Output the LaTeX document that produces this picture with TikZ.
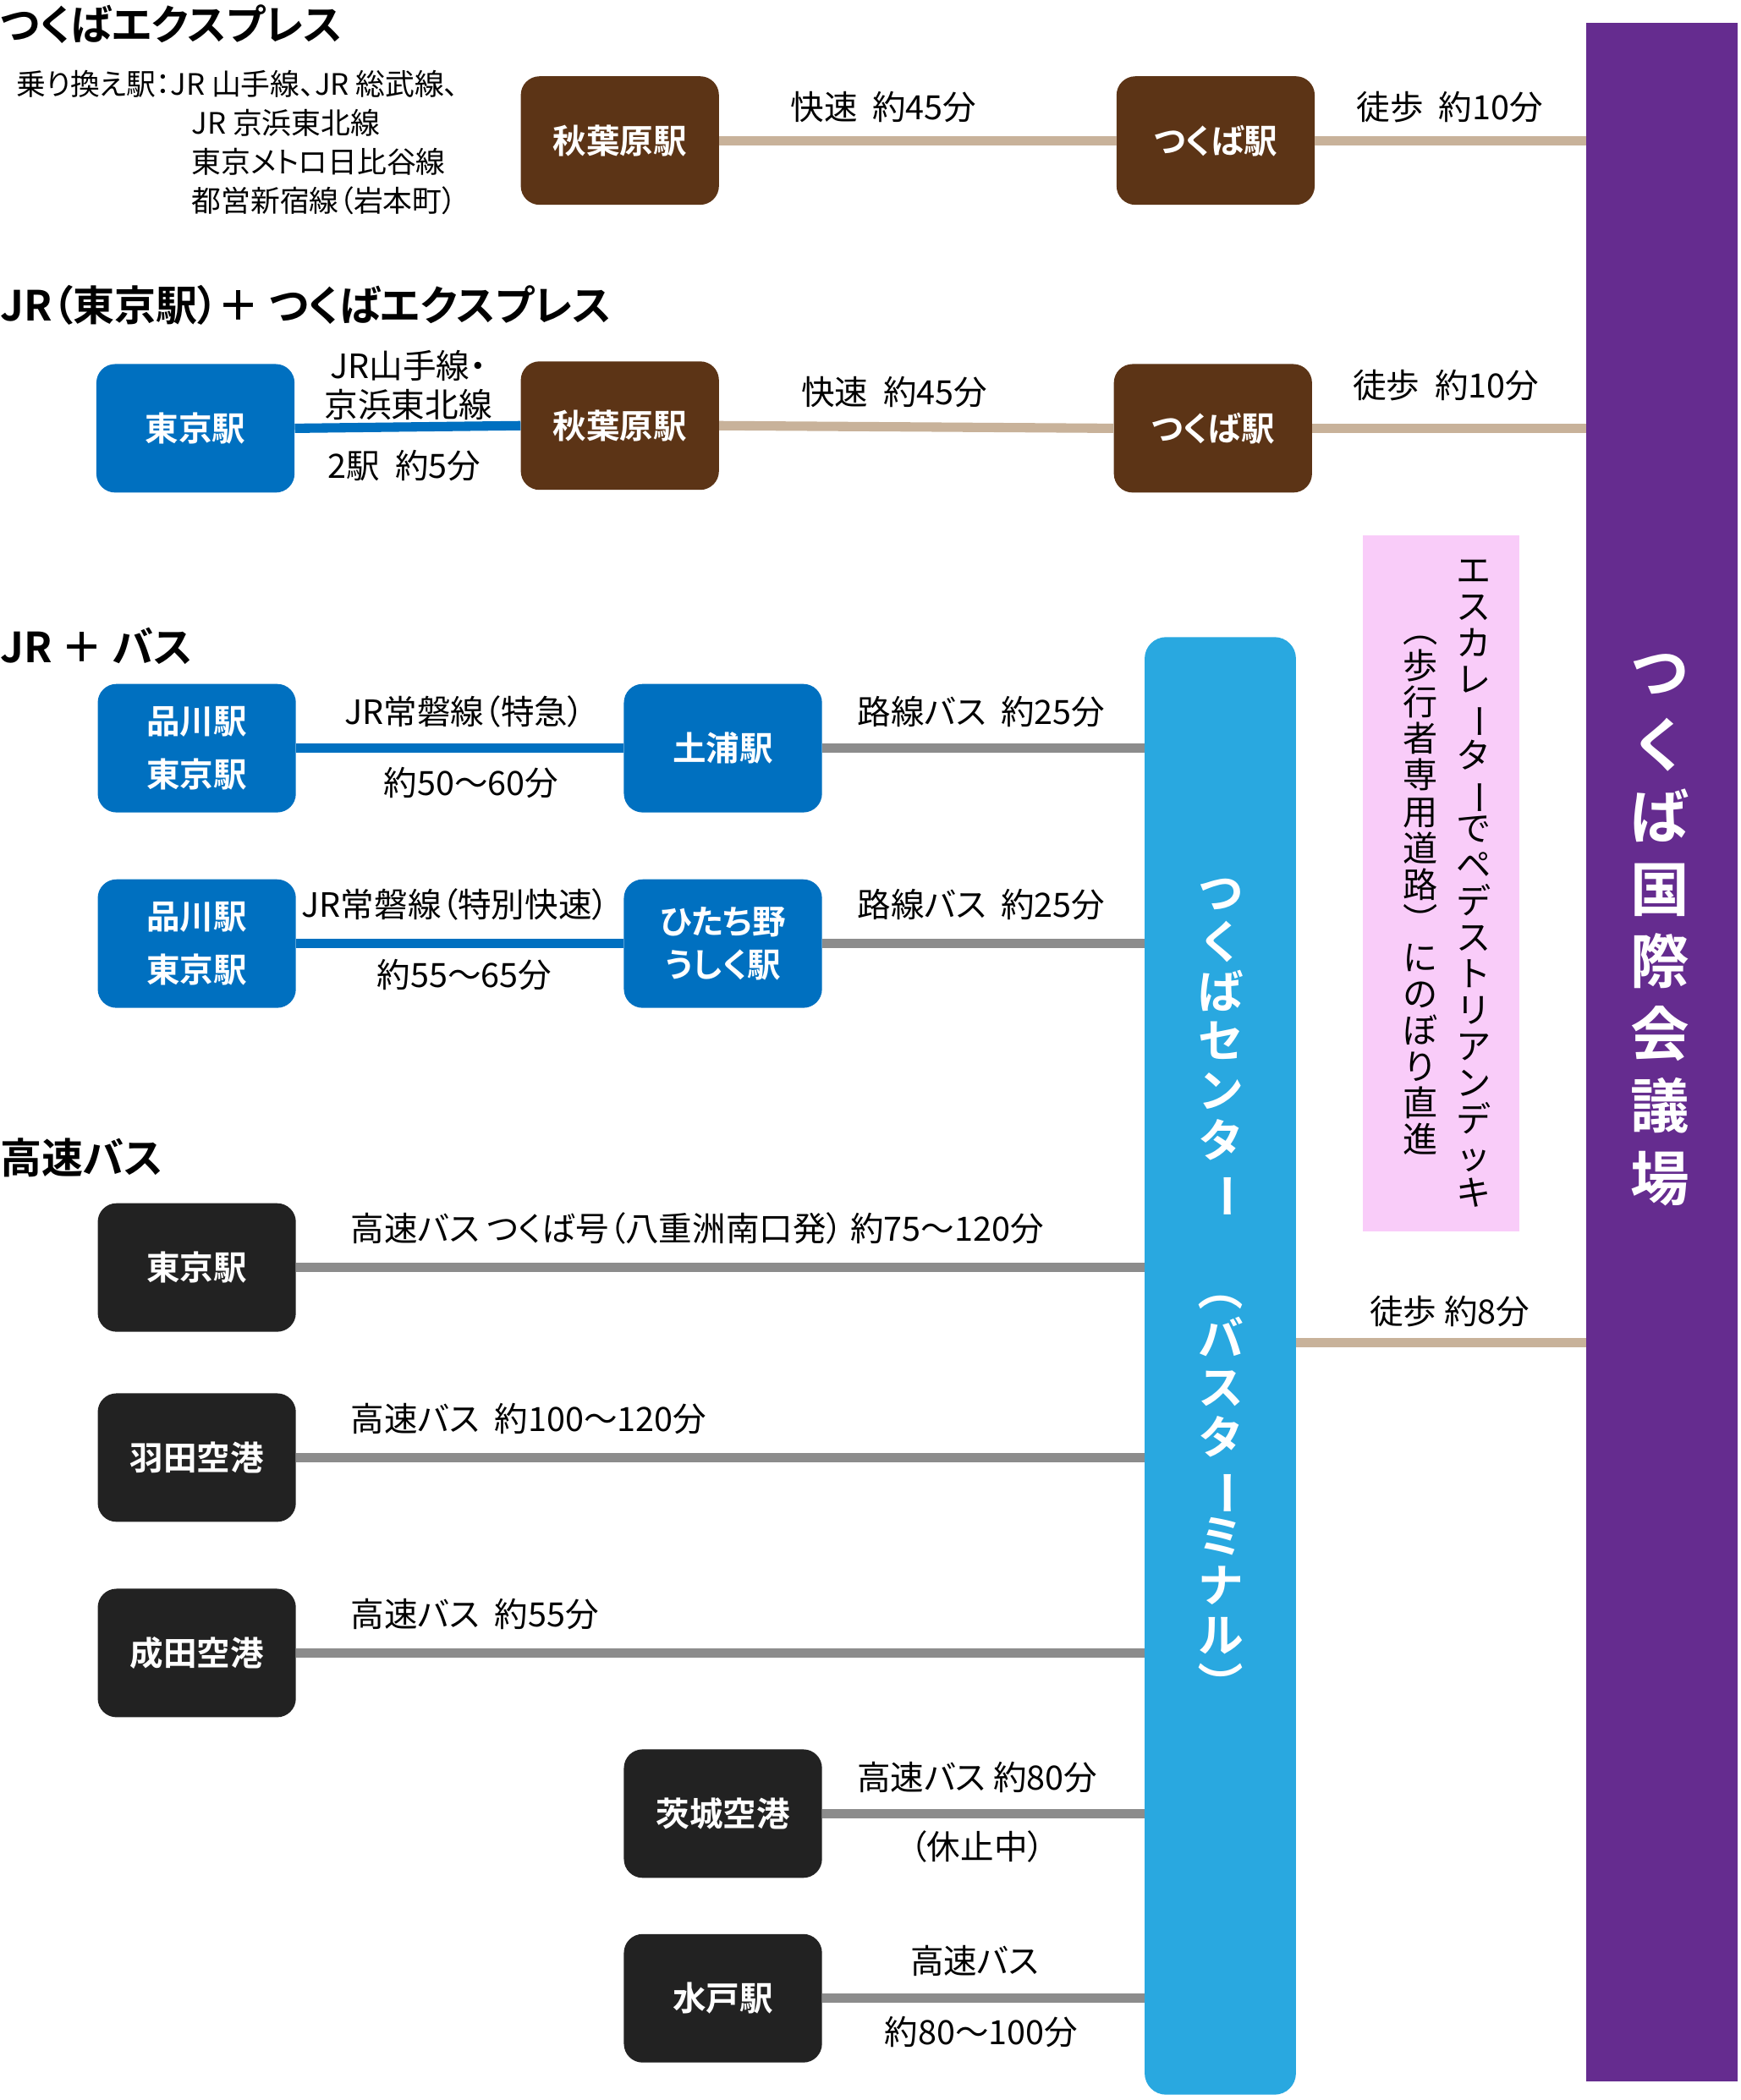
\documentclass[tikz,border=0pt]{standalone}
\usepackage{fontspec}
\usepackage{graphicx}
\setmainfont{Noto Sans CJK JP}[BoldFont=* Bold,RawFeature=+palt]
\newfontfamily\tatefont{Noto Sans CJK JP}[BoldFont=* Bold]
\newcommand{\R}[1]{\rotatebox[origin=c]{-90}{#1}}
\definecolor{brn}{HTML}{5C3416}
\definecolor{jrb}{HTML}{0070C0}
\definecolor{term}{HTML}{29A8E0}
\definecolor{purp}{HTML}{652C8F}
\definecolor{pink}{HTML}{F9CCF9}
\definecolor{tan}{HTML}{C8B29A}
\definecolor{gry}{HTML}{8C8C8C}
\definecolor{blk}{HTML}{222222}
\begin{document}
\begin{tikzpicture}[x=1pt,y=-1pt,
 st/.style={rounded corners=14pt,minimum width=148pt,minimum height=96pt,text=white,font=\fontsize{25}{32}\selectfont\bfseries,align=center,inner sep=0},
 brs/.style={st,fill=brn}, jrs/.style={st,fill=jrb}, bks/.style={st,fill=blk},
 lab/.style={font=\fontsize{25}{30}\selectfont,inner sep=0},
 ttl/.style={font=\fontsize{31}{36}\selectfont\bfseries,anchor=west,inner sep=0},
 tl/.style={line width=7pt,tan}, bl/.style={line width=7pt,jrb}, gl/.style={line width=7pt,gry}]
\useasboundingbox (0,0) rectangle (1300,1569);
% bars
\fill[purp] (1185,17) rectangle (1298,1555);
\coordinate (purple) at (1185,500);
\node[inner sep=0,text=white,font=\tatefont\fontsize{44}{54}\selectfont\bfseries,align=center] at (1240,695) {つ\\く\\ば\\国\\際\\会\\議\\場};
\fill[pink] (1018,400) rectangle (1135,920);
\node[inner sep=0,font=\tatefont\fontsize{26}{27.2}\selectfont,align=center] at (1101,660) {エ\\ス\\カ\\レ\\\R{ー}\\タ\\\R{ー}\\で\\ペ\\デ\\ス\\ト\\リ\\ア\\ン\\デ\\ッ\\キ};
\node[inner sep=0,font=\tatefont\fontsize{26}{27.2}\selectfont,align=center] at (1061,660) {\R{（}\\歩\\行\\者\\専\\用\\道\\路\\\R{）}\\に\\の\\ぼ\\り\\直\\進};
\node[fill=term,rounded corners=16pt,minimum width=113pt,minimum height=1089pt,inner sep=0] (bt) at (911.5,1020.5) {};
\node[inner sep=0,text=white,font=\tatefont\fontsize{34}{37}\selectfont\bfseries,align=center] at (912,966) {つ\\く\\ば\\セ\\ン\\タ\\\R{ー}\\　\\\R{（}\\バ\\ス\\タ\\\R{ー}\\ミ\\ナ\\ル\\\R{）}};
% section 1
\node[ttl] at (0,18) {つくばエクスプレス};
\node[lab,anchor=west,font=\fontsize{22}{26}\selectfont] at (12,63) {乗り換え駅：JR 山手線、JR 総武線、};
\node[lab,anchor=west,font=\fontsize{22}{26}\selectfont] at (143,92) {JR 京浜東北線};
\node[lab,anchor=west,font=\fontsize{22}{26}\selectfont] at (143,121) {東京メトロ日比谷線};
\node[lab,anchor=west,font=\fontsize{22}{26}\selectfont] at (143,150) {都営新宿線（岩本町）};
\node[brs] (a1) at (463,105) {秋葉原駅};
\node[brs] (t1) at (908,105) {つくば駅};
\draw[tl] (a1.east) -- (t1.west);
\draw[tl] (t1.east) -- (t1.east -| purple);
\node[lab] at (660,80) {快速\ \ 約45分};
\node[lab] at (1083,80) {徒歩\ \ 約10分};
% section 2
\node[ttl] at (0,228) {JR（東京駅）＋ つくばエクスプレス};
\node[jrs] (k2) at (146,320) {東京駅};
\node[brs] (a2) at (463,318) {秋葉原駅};
\node[brs] (t2) at (906,320) {つくば駅};
\draw[bl] (k2.east) -- (a2.west);
\draw[tl] (a2.east) -- (t2.west);
\draw[tl] (t2.east) -- (t2.east -| purple);
\node[lab,align=center,font=\fontsize{25}{29}\selectfont] at (305,288) {JR山手線・\\京浜東北線};
\node[lab] at (302,348) {2駅\ \ 約5分};
\node[lab] at (668,293) {快速\ \ 約45分};
\node[lab] at (1080,288) {徒歩\ \ 約10分};
% section 3
\node[ttl] at (0,483) {JR ＋ バス};
\node[jrs,font=\fontsize{25}{40}\selectfont\bfseries] (s1) at (147,559) {品川駅\\東京駅};
\node[jrs] (u1) at (540,559) {土浦駅};
\draw[bl] (s1.east) -- (u1.west);
\draw[gl] (u1.east) -- (u1.east -| bt.west);
\node[lab] at (347,532) {JR常磐線（特急）};
\node[lab] at (352,585) {約50〜60分};
\node[lab] at (733,532) {路線バス\ \ 約25分};
\node[jrs,font=\fontsize{25}{40}\selectfont\bfseries] (s2) at (147,705) {品川駅\\東京駅};
\node[jrs,font=\fontsize{25}{32}\selectfont\bfseries] (u2) at (540,705) {ひたち野\\うしく駅};
\draw[bl] (s2.east) -- (u2.west);
\draw[gl] (u2.east) -- (u2.east -| bt.west);
\node[lab] at (340,676) {JR常磐線（特別快速）};
\node[lab] at (347,728) {約55〜65分};
\node[lab] at (733,676) {路線バス\ \ 約25分};
% section 4
\node[ttl] at (0,865) {高速バス};
\node[bks] (b1) at (147,947) {東京駅};
\node[bks] (b2) at (147,1089) {羽田空港};
\node[bks] (b3) at (147,1235) {成田空港};
\node[bks] (b4) at (540,1355) {茨城空港};
\node[bks] (b5) at (540,1493) {水戸駅};
\foreach \n in {b1,b2,b3,b4,b5} \draw[gl] (\n.east) -- (\n.east -| bt.west);
\node[lab,anchor=west] at (262,918) {高速バス つくば号（八重洲南口発） 約75〜120分};
\node[lab,anchor=west] at (262,1060) {高速バス\ \ 約100〜120分};
\node[lab,anchor=west] at (262,1206) {高速バス\ \ 約55分};
\node[lab] at (730,1328) {高速バス\ 約80分};
\node[lab] at (730,1380) {（休止中）};
\node[lab] at (728,1465) {高速バス};
\node[lab] at (733,1518) {約80〜100分};
\coordinate (w) at (968,1003);
\draw[tl] (w) -- (w -| purple);
\node[lab] at (1083,980) {徒歩\ 約8分};
\end{tikzpicture}
\end{document}
